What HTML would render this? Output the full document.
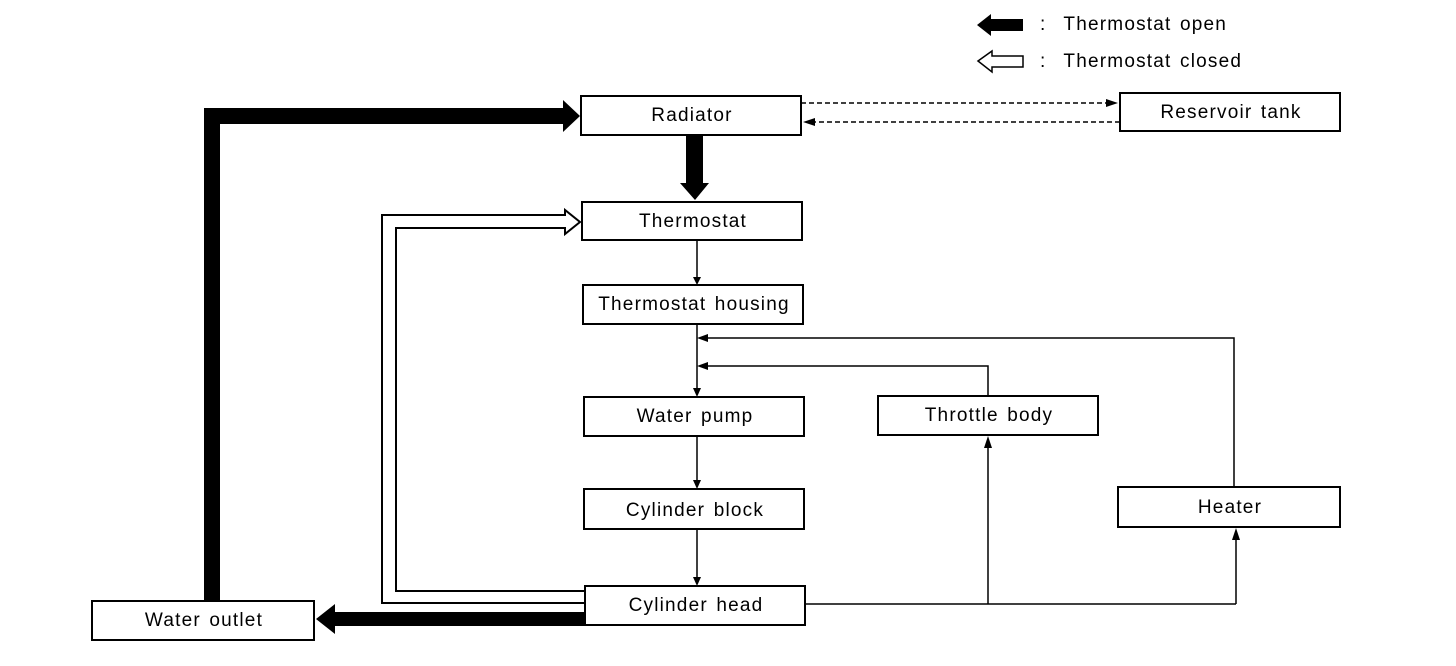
<!DOCTYPE html>
<html><head><style>
html,body{margin:0;padding:0;background:#fff;}
svg{display:block;}
text{font-family:"Liberation Sans",sans-serif;font-size:19px;letter-spacing:1.2px;word-spacing:2px;fill:#000;}
</style></head><body>
<svg width="1456" height="666" viewBox="0 0 1456 666" xmlns="http://www.w3.org/2000/svg">
<g fill="#fff" stroke="#000" stroke-width="2">
<rect x="581" y="96" width="220" height="39"/>
<rect x="1120" y="93" width="220" height="38"/>
<rect x="582" y="202" width="220" height="38"/>
<rect x="583" y="285" width="220" height="39"/>
<rect x="584" y="397" width="220" height="39"/>
<rect x="878" y="396" width="220" height="39"/>
<rect x="584" y="489" width="220" height="40"/>
<rect x="1118" y="487" width="222" height="40"/>
<rect x="585" y="586" width="220" height="39"/>
<rect x="92" y="601" width="222" height="39"/>
</g>
<g text-anchor="middle">
<text x="692" y="121">Radiator</text>
<text x="1231" y="118">Reservoir tank</text>
<text x="693" y="227">Thermostat</text>
<text x="694" y="310">Thermostat housing</text>
<text x="695" y="422">Water pump</text>
<text x="989" y="421">Throttle body</text>
<text x="695" y="516">Cylinder block</text>
<text x="1230" y="513">Heater</text>
<text x="696" y="611">Cylinder head</text>
<text x="204" y="626">Water outlet</text>
</g>
<!-- legend -->
<polygon points="977,25 991,14 991,19 1023,19 1023,31 991,31 991,36" fill="#000"/>
<text x="1040" y="30">:&#160;&#160;Thermostat open</text>
<polygon points="978,61 992,51 992,56 1023,56 1023,67 992,67 992,72" fill="#fff" stroke="#000" stroke-width="1.5"/>
<text x="1040" y="67">:&#160;&#160;Thermostat closed</text>
<!-- thick black -->
<polygon points="204,601 204,108 563,108 563,100 580,116 563,132 563,124 220,124 220,601" fill="#000"/>
<polygon points="686,135 703,135 703,183 709,183 695,200 680,183 686,183" fill="#000"/>
<polygon points="585,612 335,612 335,604 316,619 335,634 335,626 585,626" fill="#000"/>
<!-- hollow -->
<polyline points="585,603 382,603 382,215 565,215 565,210 580,222 565,234 565,228 396,228 396,591 585,591" fill="none" stroke="#000" stroke-width="2"/>
<!-- thin connectors -->
<g stroke="#000" stroke-width="1.5" fill="none">
<line x1="697" y1="240" x2="697" y2="278"/>
<line x1="697" y1="324" x2="697" y2="390"/>
<polyline points="1234,487 1234,338 708,338"/>
<polyline points="988,396 988,366 708,366"/>
<line x1="697" y1="436" x2="697" y2="482"/>
<line x1="697" y1="529" x2="697" y2="579"/>
<line x1="805" y1="604" x2="1236" y2="604"/>
<line x1="988" y1="604" x2="988" y2="448"/>
<line x1="1236" y1="604" x2="1236" y2="540"/>
<line x1="801" y1="103" x2="1106" y2="103" stroke-dasharray="5,3"/>
<line x1="1120" y1="122" x2="815" y2="122" stroke-dasharray="5,3"/>
</g>
<g fill="#000">
<polygon points="693,277 701,277 697,285"/>
<polygon points="693,388 701,388 697,397"/>
<polygon points="697,338 708,334 708,342"/>
<polygon points="697,366 708,362 708,370"/>
<polygon points="693,480 701,480 697,489"/>
<polygon points="693,577 701,577 697,586"/>
<polygon points="984,448 992,448 988,436"/>
<polygon points="1232,540 1240,540 1236,528"/>
<polygon points="1106,99 1106,107 1118,103"/>
<polygon points="815,118 815,126 803,122"/>
</g>
</svg>
</body></html>
